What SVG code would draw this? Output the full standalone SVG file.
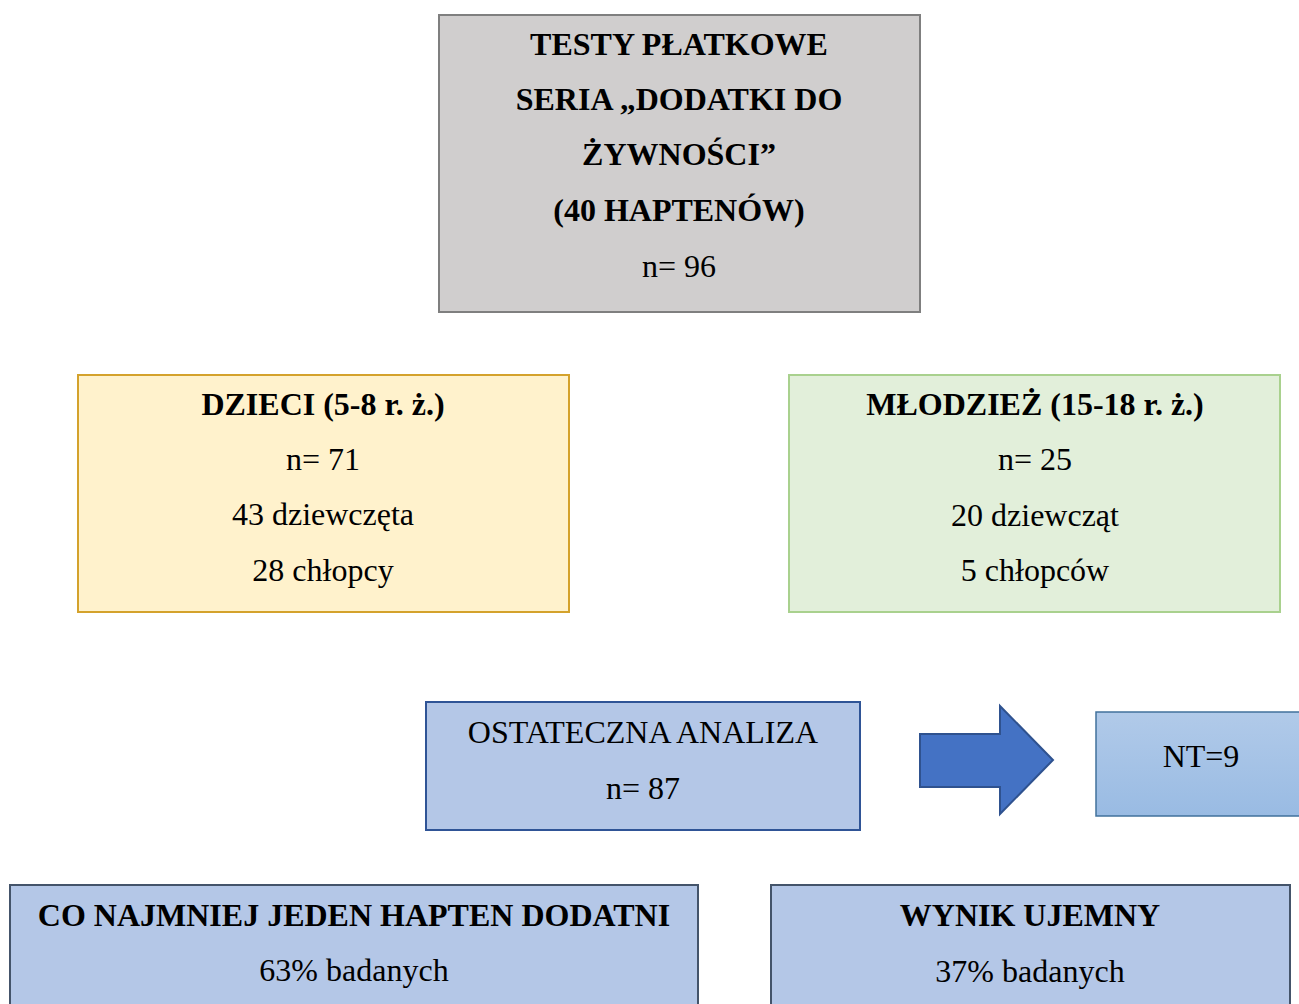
<svg xmlns="http://www.w3.org/2000/svg" width="1299" height="1004" viewBox="0 0 1299 1004">
<style>
text{font-size:32px;fill:#000;text-anchor:middle}
.b{font-weight:bold}
</style>
<defs>
<linearGradient id="ntg" x1="0" y1="0" x2="0" y2="1">
<stop offset="0" stop-color="#b1cae9"/>
<stop offset="1" stop-color="#99bbe3"/>
</linearGradient>
</defs>
<rect width="1299" height="1004" fill="#fff"/>
<g id="top" font-family="Liberation Serif">
<rect x="439" y="15" width="481" height="297" fill="#d0cece" stroke="#7f7f7f" stroke-width="2"/>
<text class="b" x="679" y="55">TESTY PŁATKOWE</text>
<text class="b" x="679" y="110">SERIA „DODATKI DO</text>
<text class="b" x="679" y="165">ŻYWNOŚCI”</text>
<text class="b" x="679" y="221">(40 HAPTENÓW)</text>
<text x="679" y="277">n= 96</text>
</g>
<g id="dzieci" font-family="Liberation Serif">
<rect x="78" y="375" width="491" height="237" fill="#fff2cc" stroke="#d4a22c" stroke-width="2"/>
<text class="b" x="323" y="415">DZIECI (5-8 r. ż.)</text>
<text x="323" y="470">n= 71</text>
<text x="323" y="525">43 dziewczęta</text>
<text x="323" y="581">28 chłopcy</text>
</g>
<g id="mlodziez" font-family="Liberation Serif">
<rect x="789" y="375" width="491" height="237" fill="#e2efda" stroke="#a9d18e" stroke-width="2"/>
<text class="b" x="1035" y="415">MŁODZIEŻ (15-18 r. ż.)</text>
<text x="1035" y="470">n= 25</text>
<text x="1035" y="526">20 dziewcząt</text>
<text x="1035" y="581">5 chłopców</text>
</g>
<g id="analiza" font-family="Liberation Serif">
<rect x="426" y="702" width="434" height="128" fill="#b4c7e7" stroke="#2f5496" stroke-width="2"/>
<text x="643" y="743">OSTATECZNA ANALIZA</text>
<text x="643" y="799">n= 87</text>
</g>
<g id="connectors">
<path d="M920 734 H1000 V706 L1053 760 L1000 814 V787 H920 Z" fill="#4472c4" stroke="#2f528f" stroke-width="2"/>
</g>
<g id="nt" font-family="Liberation Serif">
<rect x="1096" y="712" width="210" height="104" fill="url(#ntg)" stroke="#41719c" stroke-width="1.5"/>
<text x="1201" y="767">NT=9</text>
</g>
<g id="dodatni" font-family="Liberation Serif">
<rect x="10" y="885" width="688" height="130" fill="#b4c7e7" stroke="#44546a" stroke-width="2"/>
<text class="b" x="354" y="926">CO NAJMNIEJ JEDEN HAPTEN DODATNI</text>
<text x="354" y="981">63% badanych</text>
</g>
<g id="ujemny" font-family="Liberation Serif">
<rect x="771" y="885" width="519" height="130" fill="#b4c7e7" stroke="#44546a" stroke-width="2"/>
<text class="b" x="1030" y="926">WYNIK UJEMNY</text>
<text x="1030" y="982">37% badanych</text>
</g>
</svg>
